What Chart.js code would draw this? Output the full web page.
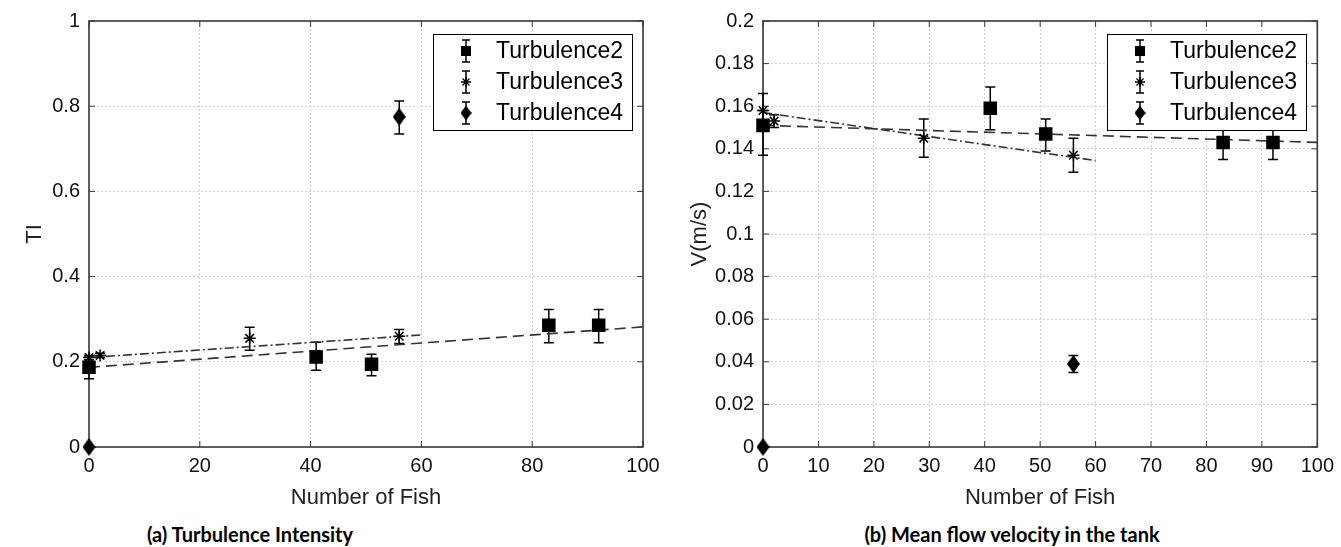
<!DOCTYPE html>
<html>
<head>
<meta charset="utf-8">
<script src="https://cdn.jsdelivr.net/npm/chart.js@4.4.1/dist/chart.umd.min.js"></script>
<style>
body { margin: 0; background: #fff; width: 1341px; height: 547px; position: relative; overflow: hidden; }
canvas { position: absolute; top: 0; }
#chartTI { left: 0; }
#chartV { left: 670px; }
.caption { position: absolute; top: 522px; font: 700 20px Lato, "Open Sans", sans-serif; color: #000; transform: translateX(-50%); white-space: nowrap; }
</style>
</head>
<body>
<canvas id="chartTI" width="670" height="515"></canvas>
<canvas id="chartV" width="671" height="515"></canvas>
<div class="caption" style="left:250px">(a) Turbulence Intensity</div>
<div class="caption" style="left:1012px">(b) Mean flow velocity in the tank</div>
<script>
// number of fish for each series
const fish2 = [0, 41, 51, 83, 92];
const fish3 = [0, 2, 29, 56];
const fish4 = [0, 56];

// (a) turbulence intensity
const ti2 = [0.187, 0.211, 0.194, 0.286, 0.286];
const ti2Low = [0.16, 0.18, 0.167, 0.245, 0.245];
const ti2High = [0.214, 0.246, 0.218, 0.323, 0.323];
const ti3 = [0.21, 0.215, 0.255, 0.26];
const ti3Low = [0.205, 0.21, 0.227, 0.243];
const ti3High = [0.215, 0.22, 0.281, 0.276];
const ti4 = [0, 0.775];
const ti4Low = [0, 0.735];
const ti4High = [0, 0.812];
const tiFit2X = [0, 100], tiFit2Y = [0.187, 0.282];
const tiFit3X = [0, 60], tiFit3Y = [0.21, 0.263];

// (b) mean flow velocity
const v2 = [0.151, 0.159, 0.147, 0.143, 0.143];
const v2Low = [0.137, 0.149, 0.139, 0.135, 0.135];
const v2High = [0.158, 0.169, 0.154, 0.151, 0.151];
const v3 = [0.158, 0.153, 0.145, 0.137];
const v3Low = [0.150, 0.150, 0.136, 0.129];
const v3High = [0.166, 0.156, 0.154, 0.145];
const v4 = [0, 0.039];
const v4Low = [0, 0.035];
const v4High = [0, 0.043];
const vFit2X = [0, 100], vFit2Y = [0.151, 0.143];
const vFit3X = [0, 60], vFit3Y = [0.157, 0.1345];

const seriesNames = ['Turbulence2', 'Turbulence3', 'Turbulence4'];

const axisFont = { family: '"Liberation Sans", Arial, sans-serif', size: 20 };
const titleFont = { family: '"Liberation Sans", Arial, sans-serif', size: 22 };

function diamondImage(w, h) {
    const c = document.createElement('canvas');
    c.width = w; c.height = h;
    const g = c.getContext('2d');
    g.fillStyle = '#000';
    g.beginPath();
    g.moveTo(w / 2, 0); g.lineTo(w, h / 2); g.lineTo(w / 2, h); g.lineTo(0, h / 2);
    g.closePath();
    g.fill();
    return c;
}
const diamond = diamondImage(13, 18);

function points(xs, ys) {
    return xs.map((x, i) => ({ x: x, y: ys[i] }));
}

function markerSet(label, xs, ys, lo, hi, style, radius) {
    return {
        label: label,
        data: points(xs, ys),
        errLow: lo,
        errHigh: hi,
        pointStyle: style,
        pointRadius: radius,
        pointHoverRadius: radius,
        pointBackgroundColor: '#000',
        pointBorderColor: '#000',
        pointBorderWidth: 1.5,
        showLine: false,
        clip: false
    };
}

function fitSet(xs, ys, dash) {
    return {
        label: 'fit',
        data: points(xs, ys),
        showLine: true,
        borderColor: '#333',
        borderWidth: 1.6,
        borderDash: dash,
        pointRadius: 0,
        fill: false,
        clip: false
    };
}

// box round the plot, ticks pointing inwards
const framePlugin = {
    id: 'frame',
    beforeDatasetsDraw(chart) {
        const { ctx, chartArea: a, scales: { x, y } } = chart;
        ctx.save();
        ctx.strokeStyle = '#3a3a3a';
        ctx.lineWidth = 1;
        ctx.beginPath();
        x.ticks.forEach(t => {
            const px = x.getPixelForValue(t.value);
            ctx.moveTo(px, a.bottom); ctx.lineTo(px, a.bottom - 6);
            ctx.moveTo(px, a.top); ctx.lineTo(px, a.top + 6);
        });
        y.ticks.forEach(t => {
            const py = y.getPixelForValue(t.value);
            ctx.moveTo(a.left, py); ctx.lineTo(a.left + 6, py);
            ctx.moveTo(a.right, py); ctx.lineTo(a.right - 6, py);
        });
        ctx.stroke();
        ctx.lineWidth = 1.6;
        ctx.strokeRect(a.left, a.top, a.right - a.left, a.bottom - a.top);
        ctx.restore();
    }
};

const errorBarPlugin = {
    id: 'errorBars',
    beforeDatasetsDraw(chart) {
        const { ctx, scales: { x, y } } = chart;
        ctx.save();
        ctx.strokeStyle = '#000';
        ctx.lineWidth = 1.5;
        chart.data.datasets.forEach(ds => {
            if (!ds.errLow) return;
            ds.data.forEach((p, i) => {
                const px = x.getPixelForValue(p.x);
                const lo = y.getPixelForValue(ds.errLow[i]);
                const hi = y.getPixelForValue(ds.errHigh[i]);
                if (Math.abs(lo - hi) < 0.5) return;
                ctx.beginPath();
                ctx.moveTo(px, lo); ctx.lineTo(px, hi);
                ctx.moveTo(px - 5, lo); ctx.lineTo(px + 5, lo);
                ctx.moveTo(px - 5, hi); ctx.lineTo(px + 5, hi);
                ctx.stroke();
            });
        });
        ctx.restore();
    }
};

function drawMarker(ctx, style, x, y) {
    ctx.fillStyle = '#000';
    ctx.strokeStyle = '#000';
    if (style === 'rect') {
        ctx.fillRect(x - 5, y - 5, 10, 10);
    } else if (style === 'star') {
        const r = 5;
        ctx.lineWidth = 1.3;
        ctx.beginPath();
        ctx.moveTo(x - r, y); ctx.lineTo(x + r, y);
        ctx.moveTo(x, y - r); ctx.lineTo(x, y + r);
        ctx.moveTo(x - r * 0.7, y - r * 0.7); ctx.lineTo(x + r * 0.7, y + r * 0.7);
        ctx.moveTo(x - r * 0.7, y + r * 0.7); ctx.lineTo(x + r * 0.7, y - r * 0.7);
        ctx.stroke();
    } else {
        ctx.drawImage(style, x - 5.5, y - 7.5, 11, 15);
    }
}

const legendPlugin = {
    id: 'boxLegend',
    afterDraw(chart) {
        const { ctx, chartArea: a } = chart;
        const w = 199, h = 96;
        const left = Math.round(a.right - 11 - w), top = Math.round(a.top + 13);
        ctx.save();
        ctx.fillStyle = '#fff';
        ctx.fillRect(left, top, w, h);
        ctx.strokeStyle = '#000';
        ctx.lineWidth = 1;
        ctx.strokeRect(left + 0.5, top + 0.5, w, h);
        chart.data.datasets.filter(d => d.errLow).forEach((ds, i) => {
            const cy = top + 17 + i * 31;
            const mx = left + 33;
            ctx.strokeStyle = '#000';
            ctx.lineWidth = 1.5;
            ctx.beginPath();
            ctx.moveTo(mx, cy - 11); ctx.lineTo(mx, cy + 11);
            ctx.moveTo(mx - 4, cy - 11); ctx.lineTo(mx + 4, cy - 11);
            ctx.moveTo(mx - 4, cy + 11); ctx.lineTo(mx + 4, cy + 11);
            ctx.stroke();
            drawMarker(ctx, ds.pointStyle, mx, cy);
            ctx.fillStyle = '#000';
            ctx.font = '23px "Liberation Sans", Arial, sans-serif';
            ctx.textBaseline = 'middle';
            ctx.textAlign = 'left';
            ctx.fillText(ds.label, left + 63, cy + 1);
        });
        ctx.restore();
    }
};

function makeChart(id, cfg) {
    return new Chart(document.getElementById(id), {
        type: 'scatter',
        data: { datasets: cfg.datasets },
        options: {
            responsive: false,
            animation: false,
            events: [],
            layout: { padding: { left: 0, top: 20, right: cfg.padRight, bottom: 0 } },
            plugins: { legend: { display: false }, tooltip: { enabled: false } },
            scales: {
                x: {
                    type: 'linear',
                    min: 0,
                    max: 100,
                    ticks: { stepSize: cfg.xStep, padding: 7, color: '#111', font: axisFont, maxRotation: 0, autoSkip: false },
                    grid: { color: '#d2d2d2', drawTicks: false },
                    border: { display: false, dash: [2, 2] },
                    title: { display: true, text: 'Number of Fish', color: '#222', font: titleFont, padding: { top: 0, bottom: 4 } },
                    afterFit: s => { s.height = 68; }
                },
                y: {
                    type: 'linear',
                    min: 0,
                    max: cfg.yMax,
                    ticks: { stepSize: cfg.yStep, padding: 9, color: '#111', font: axisFont, autoSkip: false,
                        callback: v => String(+v.toFixed(cfg.digits)) },
                    grid: { color: '#d2d2d2', drawTicks: false },
                    border: { display: false, dash: [2, 2] },
                    title: { display: true, text: cfg.yTitle, color: '#222', font: titleFont, padding: { top: cfg.yTitlePad, bottom: 0 } },
                    afterFit: s => { s.width = cfg.yWidth; }
                }
            }
        },
        plugins: [framePlugin, errorBarPlugin, legendPlugin]
    });
}

makeChart('chartTI', {
    datasets: [
        markerSet(seriesNames[0], fish2, ti2, ti2Low, ti2High, 'rect', 8.5),
        markerSet(seriesNames[1], fish3, ti3, ti3Low, ti3High, 'star', 6),
        markerSet(seriesNames[2], fish4, ti4, ti4Low, ti4High, diamond, 8),
        fitSet(tiFit2X, tiFit2Y, [11, 6]),
        fitSet(tiFit3X, tiFit3Y, [9, 3, 2, 3])
    ],
    padRight: 27,
    xStep: 20,
    yMax: 1,
    yStep: 0.2,
    digits: 1,
    yTitle: 'TI',
    yTitlePad: 22,
    yWidth: 89
});

makeChart('chartV', {
    datasets: [
        markerSet(seriesNames[0], fish2, v2, v2Low, v2High, 'rect', 8.5),
        markerSet(seriesNames[1], fish3, v3, v3Low, v3High, 'star', 6),
        markerSet(seriesNames[2], fish4, v4, v4Low, v4High, diamond, 8),
        fitSet(vFit2X, vFit2Y, [11, 6]),
        fitSet(vFit3X, vFit3Y, [9, 3, 2, 3])
    ],
    padRight: 21,
    xStep: 10,
    yMax: 0.2,
    yStep: 0.02,
    digits: 2,
    yTitle: 'V(m/s)',
    yTitlePad: 17,
    yWidth: 93
});
</script>
</body>
</html>
